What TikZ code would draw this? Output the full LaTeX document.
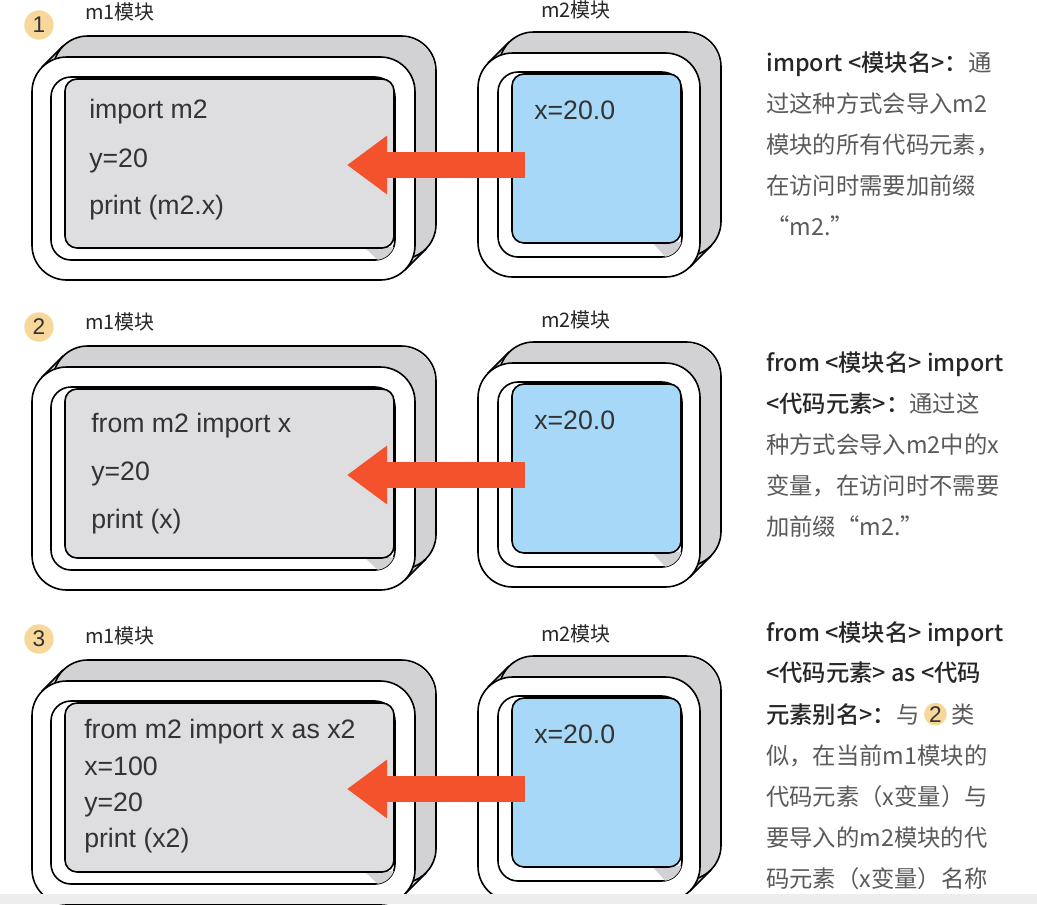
\documentclass[tikz,border=0pt]{standalone}
\usepackage{fontspec}
\setmainfont{Liberation Sans}
\newfontfamily\cjk[BoldFont={Noto Sans CJK SC Medium}]{Noto Sans CJK SC}
\usetikzlibrary{arrows.meta, positioning}

\definecolor{shellgray}{HTML}{D2D2D4}
\definecolor{codegray}{HTML}{DEDEE0}
\definecolor{m2blue}{HTML}{A8D8F8}
\definecolor{arroworange}{HTML}{F4522C}
\definecolor{badgeorange}{HTML}{F8D79B}
\definecolor{notegray}{HTML}{5A5A5A}
\definecolor{inkgray}{HTML}{333333}

\tikzset{
    edge/.style={draw=black, line width=1.2pt},
    codeline/.style={anchor=base west, inner sep=0pt, text=inkgray, font=\fontsize{20}{24}\selectfont},
    modlabel/.style={anchor=west, inner sep=0pt, text=black!85, font=\cjk\fontsize{15}{18}\selectfont},
    note/.style={anchor=base west, inner sep=0pt, text=notegray, font=\cjk\fontsize{17.5}{21}\selectfont},
    badge/.style={circle, fill=badgeorange, inner sep=0pt, minimum size=22pt, text=inkgray, font=\fontsize{17}{20}\selectfont},
    bigarrow/.style={draw=arroworange, line width=19.5pt, -{Triangle[length=30pt, width=42pt]}}
}

\begin{document}
\begin{tikzpicture}[x=0.75pt, y=-0.75pt]
    \useasboundingbox (0,0) rectangle (1037,904);
    \fill[white] (0,0) rectangle (1037,904);
    \clip (0,0) rectangle (1037,904);

    \foreach \dy/\i in {0/1,310/2,624/3} {
        % m1 module: extruded back shell
        \foreach \k in {0,0.05,...,1}
            \fill[shellgray, rounded corners=26pt, shift={(21*\k,-21*\k)}] (32,57+\dy) rectangle (415,280+\dy);
        \draw[edge, rounded corners=26pt] (53,36+\dy) rectangle (436,259+\dy);
        \draw[edge] (42,67+\dy) -- (63,46+\dy);
        \draw[edge] (405,270+\dy) -- (426,249+\dy);
        % m1 module: frames and code area
        \draw[edge, fill=white, rounded corners=26pt] (32,57+\dy) rectangle (415,280+\dy);
        \draw[edge, fill=white, rounded corners=15pt] (51,77+\dy) rectangle (395,260+\dy);
        \begin{scope}
            \clip[rounded corners=15pt] (51,77+\dy) rectangle (395,260+\dy);
            \fill[shellgray] (364,247+\dy) -- (400,247+\dy) -- (400,262+\dy) -- (380,262+\dy) -- cycle;
        \end{scope}
        \draw[edge, fill=codegray, rounded corners=9pt] (65,79+\dy) rectangle (394,248+\dy);

        % m2 module: extruded back shell
        \foreach \k in {0,0.05,...,1}
            \fill[shellgray, rounded corners=26pt, shift={(21*\k,-21*\k)}] (478,53+\dy) rectangle (700,277+\dy);
        \draw[edge, rounded corners=26pt] (499,32+\dy) rectangle (721,256+\dy);
        \draw[edge] (488,63+\dy) -- (509,42+\dy);
        \draw[edge] (690,267+\dy) -- (711,246+\dy);
        % m2 module: frames and value area
        \draw[edge, fill=white, rounded corners=26pt] (478,53+\dy) rectangle (700,277+\dy);
        \draw[edge, fill=white, rounded corners=15pt] (498,72+\dy) rectangle (682,257+\dy);
        \begin{scope}
            \clip[rounded corners=15pt] (498,72+\dy) rectangle (682,257+\dy);
            \fill[shellgray] (652,242+\dy) -- (690,242+\dy) -- (690,260+\dy) -- (668,260+\dy) -- cycle;
        \end{scope}
        \draw[edge, fill=m2blue, rounded corners=9pt] (512,74+\dy) rectangle (681,243+\dy);

        % import arrow m2 -> m1
        \coordinate (src\i) at (525,165+\dy);
        \coordinate (dst\i) at (347,165+\dy);
        \draw[bigarrow] (src\i) -- (dst\i);

        \node[modlabel] (m1lab\i) at (85,12+\dy) {m1模块};
        \node[modlabel] (m2lab\i) at (541,10+\dy) {m2模块};
        \node[codeline] (val\i) at (534,119+\dy) {x=20.0};
    }

    % badges
    \node[badge] (num1) at (39,25) {1};
    \node[badge] (num2) at (39,327) {2};
    \node[badge] (num3) at (39,639) {3};

    % code in m1
    \node[codeline] (c1a) at (89,118) {import m2};
    \node[codeline] (c1b) at (89,167) {y=20};
    \node[codeline] (c1c) at (89,214) {print (m2.x)};

    \node[codeline] (c2a) at (91,432) {from m2 import x};
    \node[codeline] (c2b) at (91,480) {y=20};
    \node[codeline] (c2c) at (91,528) {print (x)};

    \node[codeline] (c3a) at (84,738) {from m2 import x as x2};
    \node[codeline] (c3b) at (84,775) {x=100};
    \node[codeline] (c3c) at (84,811) {y=20};
    \node[codeline] (c3d) at (84,847) {print (x2)};

    % notes on the right
    \node[note] (n1a) at (766,71) {{\bfseries\color{black!85}import <模块名>：}通};
    \node[note] (n1b) at (766,112) {过这种方式会导入m2};
    \node[note] (n1c) at (766,153) {模块的所有代码元素，};
    \node[note] (n1d) at (766,194) {在访问时需要加前缀};
    \node[note] (n1e) at (766,235) {“m2.”};

    \node[note] (n2a) at (766,371) {{\bfseries\color{black!85}from <模块名> import}};
    \node[note] (n2b) at (766,412) {{\bfseries\color{black!85}<代码元素>：}通过这};
    \node[note] (n2c) at (766,453) {种方式会导入m2中的x};
    \node[note] (n2d) at (766,494) {变量，在访问时不需要};
    \node[note] (n2e) at (766,535) {加前缀“m2.”};

    \node[note] (n3a) at (766,641) {{\bfseries\color{black!85}from <模块名> import}};
    \node[note] (n3b) at (766,681) {{\bfseries\color{black!85}<代码元素> as <代码}};
    \node[note] (n3c) at (766,723) {{\bfseries\color{black!85}元素别名>：}与};
    \node[badge, right=3pt of n3c.east, minimum size=17pt] (num2in) {2};
    \node[note, right=3pt of num2in] (n3d) {类};
    \node[note] (n3e) at (766,764) {似，在当前m1模块的};
    \node[note] (n3f) at (766,805) {代码元素（x变量）与};
    \node[note] (n3g) at (766,846) {要导入的m2模块的代};
    \node[note] (n3h) at (766,887) {码元素（x变量）名称};

    % bottom strip
    \fill[black!7] (0,894) rectangle (1037,904);
\end{tikzpicture}
\end{document}
